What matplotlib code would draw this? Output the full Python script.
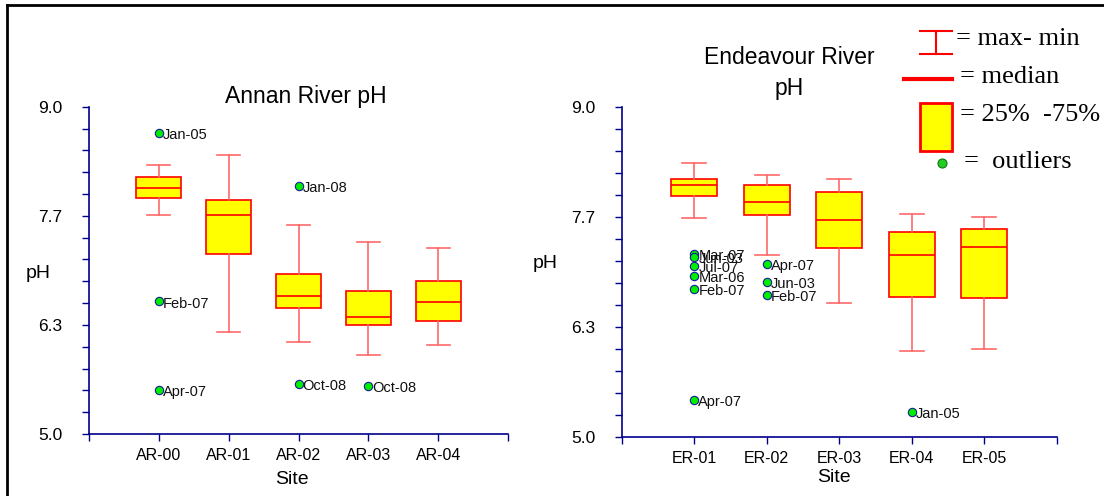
import numpy as np
import matplotlib
matplotlib.use('Agg')
import matplotlib.pyplot as plt
from matplotlib.patches import Rectangle

# Annan River sites
ar_sites = ['AR-00', 'AR-01', 'AR-02', 'AR-03', 'AR-04']
ar_min = [7.68, 6.25, 6.13, 5.96, 6.09]
ar_q1 = [7.88, 7.20, 6.54, 6.33, 6.38]
ar_med = [8.01, 7.68, 6.69, 6.43, 6.61]
ar_q3 = [8.14, 7.86, 6.96, 6.75, 6.87]
ar_max = [8.29, 8.41, 7.56, 7.35, 7.27]
ar_out_site = [0, 0, 0, 2, 2, 3]
ar_out_val = [8.68, 6.62, 5.54, 8.03, 5.61, 5.59]
ar_out_lab = ['Jan-05', 'Feb-07', 'Apr-07', 'Jan-08', 'Oct-08', 'Oct-08']

# Endeavour River sites
er_sites = ['ER-01', 'ER-02', 'ER-03', 'ER-04', 'ER-05']
er_min = [7.65, 7.21, 6.63, 6.05, 6.07]
er_q1 = [7.92, 7.69, 7.29, 6.70, 6.68]
er_med = [8.05, 7.85, 7.63, 7.20, 7.30]
er_q3 = [8.13, 8.05, 7.97, 7.48, 7.52]
er_max = [8.32, 8.17, 8.13, 7.70, 7.67]
er_out_site = [0, 0, 0, 0, 0, 0, 1, 1, 1, 3]
er_out_val = [7.22, 7.18, 7.07, 6.95, 6.80, 5.45, 7.10, 6.88, 6.72, 5.31]
er_out_lab = ['Mar-07', 'Jun-03', 'Jul-07', 'Mar-06', 'Feb-07', 'Apr-07',
              'Apr-07', 'Jun-03', 'Feb-07', 'Jan-05']

W, H = 1104, 496
SANS = ['Liberation Sans', 'DejaVu Sans']
SERIF = ['Liberation Serif', 'DejaVu Serif']
AXCOL = '#00008b'
WHISK = '#ff6a6a'

plt.rcParams['font.family'] = SANS


def px(x, y):
    return x / W, 1 - y / H


def draw_panel(ax, sites, mins, q1s, meds, q3s, maxs, out_site, out_val, out_lab):
    stats = []
    for lo, a, m, b, hi in zip(mins, q1s, meds, q3s, maxs):
        stats.append(dict(whislo=lo, q1=a, med=m, q3=b, whishi=hi, fliers=[]))
    ax.bxp(stats, positions=range(len(sites)), widths=0.64, capwidths=0.33,
           patch_artist=True, showfliers=False,
           boxprops=dict(facecolor='#ffff00', edgecolor='#ff0000', linewidth=1.2),
           medianprops=dict(color='#ff0000', linewidth=1.2),
           whiskerprops=dict(color=WHISK, linewidth=1.2),
           capprops=dict(color=WHISK, linewidth=1.2))
    xs = [int(s) for s in out_site]
    ax.plot(xs, out_val, 'o', ms=6, mfc='#00ee00', mec='#1a1a9a', mew=0.8,
            linestyle='none', zorder=5)
    for x, v, lab in zip(xs, out_val, out_lab):
        ax.annotate(lab, (x, v), xytext=(3, -1.5), textcoords='offset points',
                    ha='left', va='center', fontsize=10.5, color='#111111')

    ax.set_xlim(-1, len(sites))
    ax.set_ylim(5, 9)
    ax.set_xticks(range(-1, len(sites) + 1))
    ax.set_xticklabels([''] + sites + [''], fontsize=11.5)
    ax.set_yticks(np.linspace(5, 9, 4))
    ax.set_yticklabels(['5.0', '6.3', '7.7', '9.0'], fontsize=12.5)
    ax.set_yticks(np.linspace(5, 9, 16), minor=True)
    for s in ['top', 'right']:
        ax.spines[s].set_visible(False)
    for s in ['left', 'bottom']:
        ax.spines[s].set_color(AXCOL)
        ax.spines[s].set_linewidth(1.2)
    ax.tick_params(axis='y', which='both', direction='out', length=5,
                   color=AXCOL, width=1, pad=14)
    ax.tick_params(axis='x', direction='out', length=5, color=AXCOL, width=1, pad=5)
    ax.set_facecolor('none')


fig = plt.figure(figsize=(W / 100, H / 100), dpi=100)

ax1 = fig.add_axes([89 / W, 62 / H, 419 / W, 327.3 / H])
draw_panel(ax1, ar_sites, ar_min, ar_q1, ar_med, ar_q3, ar_max,
           ar_out_site, ar_out_val, ar_out_lab)

ax2 = fig.add_axes([621.7 / W, 58.7 / H, 435 / W, 330.6 / H])
draw_panel(ax2, er_sites, er_min, er_q1, er_med, er_q3, er_max,
           er_out_site, er_out_val, er_out_lab)

# titles and axis labels
fig.text(*px(306, 96), 'Annan River pH', ha='center', va='center', fontsize=16.5)
fig.text(*px(789, 58), 'Endeavour River', ha='center', va='center', fontsize=16.5)
fig.text(*px(789, 89), 'pH', ha='center', va='center', fontsize=16.5)
fig.text(*px(38, 273), 'pH', ha='center', va='center', fontsize=14)
fig.text(*px(545, 263), 'pH', ha='center', va='center', fontsize=14)
fig.text(*px(292, 479), 'Site', ha='center', va='center', fontsize=14)
fig.text(*px(834, 478), 'Site', ha='center', va='center', fontsize=14)

# overlay in pixel coordinates for frame and key
ov = fig.add_axes([0, 0, 1, 1], zorder=-1)
ov.set_xlim(0, W)
ov.set_ylim(H, 0)
ov.axis('off')
ov.plot([7, 7], [5, H], color='black', lw=2)
ov.plot([7, W], [5, 5], color='black', lw=2)

ov.plot([936, 936], [31, 54], color='#ff0000', lw=1.5)
ov.plot([920, 952], [31, 31], color='#ff0000', lw=1.5)
ov.plot([920, 952], [54, 54], color='#ff0000', lw=1.5)
ov.plot([904, 952], [79, 79], color='#ff0000', lw=3)
ov.add_patch(Rectangle((920, 103), 32, 48, facecolor='#ffff00', edgecolor='#ff0000', lw=2))
ov.plot([942], [163], 'o', ms=6.5, mfc='#22cc22', mec='#117711', mew=0.8)

fig.text(*px(956, 39), '= max- min', ha='left', va='center', fontsize=19, family=SERIF)
fig.text(*px(960, 77), '= median', ha='left', va='center', fontsize=19, family=SERIF)
fig.text(*px(960, 115), '= 25%  -75%', ha='left', va='center', fontsize=19, family=SERIF)
fig.text(*px(964, 162), '=  outliers', ha='left', va='center', fontsize=19, family=SERIF)

fig.savefig('out.png', dpi=100)
